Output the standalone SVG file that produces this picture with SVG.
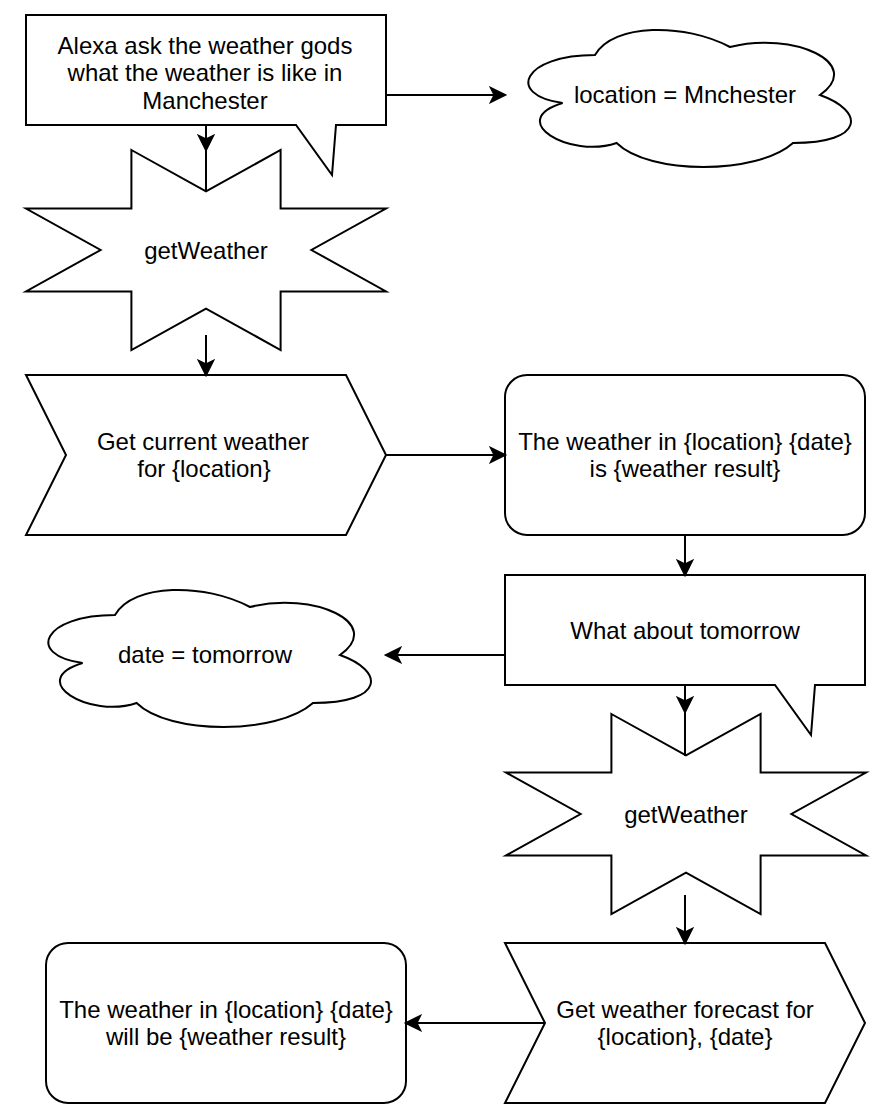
<svg xmlns="http://www.w3.org/2000/svg" width="880" height="1119" viewBox="0 0 880 1119">
<style>
.s{fill:#fff;stroke:#000;stroke-width:2;stroke-linejoin:miter}
.t{font-family:"Liberation Sans",Arial,Helvetica,sans-serif;font-size:24px;fill:#000;text-anchor:middle}
.c{fill:none;stroke:#000;stroke-width:2}
</style>
<defs>
<path id="star" d="M105.4,0 L180,41.4 L254.6,0 L254.6,58.6 L360,58.6 L285.4,100 L360,141.4 L254.6,141.4 L254.6,200 L180,158.6 L105.4,200 L105.4,141.4 L0,141.4 L74.6,100 L0,58.6 L105.4,58.6 Z"/>
<path id="callout" d="M0,0 H360 V110 H310 L306,160 L270,110 H0 Z"/>
<path id="step" d="M0,0 H320 L360,80 L320,160 H0 L40,80 Z"/>
<path id="cloud" d="M90,40 C18,40 0,80 57.6,88 C0,105.6 64.8,144 111.6,128 C144,160 252,160 288,128 C360,128 360,96 315,80 C360,48 288,16 225,32 C180,8 108,8 90,40 Z"/>
<marker id="arr" markerUnits="userSpaceOnUse" viewBox="-2 -10 19 20" refX="14" refY="0" markerWidth="19" markerHeight="20" orient="auto">
<path d="M14,0 L0,-7 L3.5,0 L0,7 Z" fill="#000" stroke="#000" stroke-width="2"/>
</marker>
</defs>
<g id="callout1">
<use href="#callout" class="s" transform="translate(26,15)"/>
<text class="t" x="205" y="53.5">Alexa ask the weather gods</text>
<text class="t" x="205" y="81">what the weather is like in</text>
<text class="t" x="205" y="108.5">Manchester</text>
</g>
<g id="cloud1">
<use href="#cloud" class="s" transform="translate(505,15)"/>
<text class="t" x="685" y="103">location = Mnchester</text>
</g>
<g id="star1">
<use href="#star" class="s" transform="translate(26,150)"/>
<text class="t" x="206" y="258.5">getWeather</text>
</g>
<g id="step1">
<use href="#step" class="s" transform="translate(26,375)"/>
<text class="t" x="203" y="449.5">Get current weather</text>
<text class="t" x="204" y="477">for {location}</text>
</g>
<g id="result1">
<rect x="505" y="375" width="360" height="160" rx="22" ry="22" class="s"/>
<text class="t" x="685" y="449.5">The weather in {location} {date}</text>
<text class="t" x="685" y="477">is {weather result}</text>
</g>
<g id="callout2">
<use href="#callout" class="s" transform="translate(505,575)"/>
<text class="t" x="685" y="638.5">What about tomorrow</text>
</g>
<g id="cloud2">
<use href="#cloud" class="s" transform="translate(25,575)"/>
<text class="t" x="205" y="663">date = tomorrow</text>
</g>
<g id="star2">
<use href="#star" class="s" transform="translate(506,714)"/>
<text class="t" x="686" y="822.5">getWeather</text>
</g>
<g id="step2">
<use href="#step" class="s" transform="translate(505,943)"/>
<text class="t" x="685" y="1017.5">Get weather forecast for</text>
<text class="t" x="685" y="1045">{location}, {date}</text>
</g>
<g id="result2">
<rect x="46" y="943" width="360" height="160" rx="22" ry="22" class="s"/>
<text class="t" x="226" y="1017.5">The weather in {location} {date}</text>
<text class="t" x="226" y="1045">will be {weather result}</text>
</g>
<g id="connectors">
<path class="c" d="M206,125 V150" marker-end="url(#arr)"/>
<path class="c" d="M206,150 V192"/>
<path class="c" d="M386,95 H505" marker-end="url(#arr)"/>
<path class="c" d="M206,335 V375" marker-end="url(#arr)"/>
<path class="c" d="M386,455 H505" marker-end="url(#arr)"/>
<path class="c" d="M685,535 V575" marker-end="url(#arr)"/>
<path class="c" d="M505,655 H386" marker-end="url(#arr)"/>
<path class="c" d="M685,685 V712" marker-end="url(#arr)"/>
<path class="c" d="M685,712 V756"/>
<path class="c" d="M685,895 V943" marker-end="url(#arr)"/>
<path class="c" d="M545,1023 H406" marker-end="url(#arr)"/>
</g>
</svg>
